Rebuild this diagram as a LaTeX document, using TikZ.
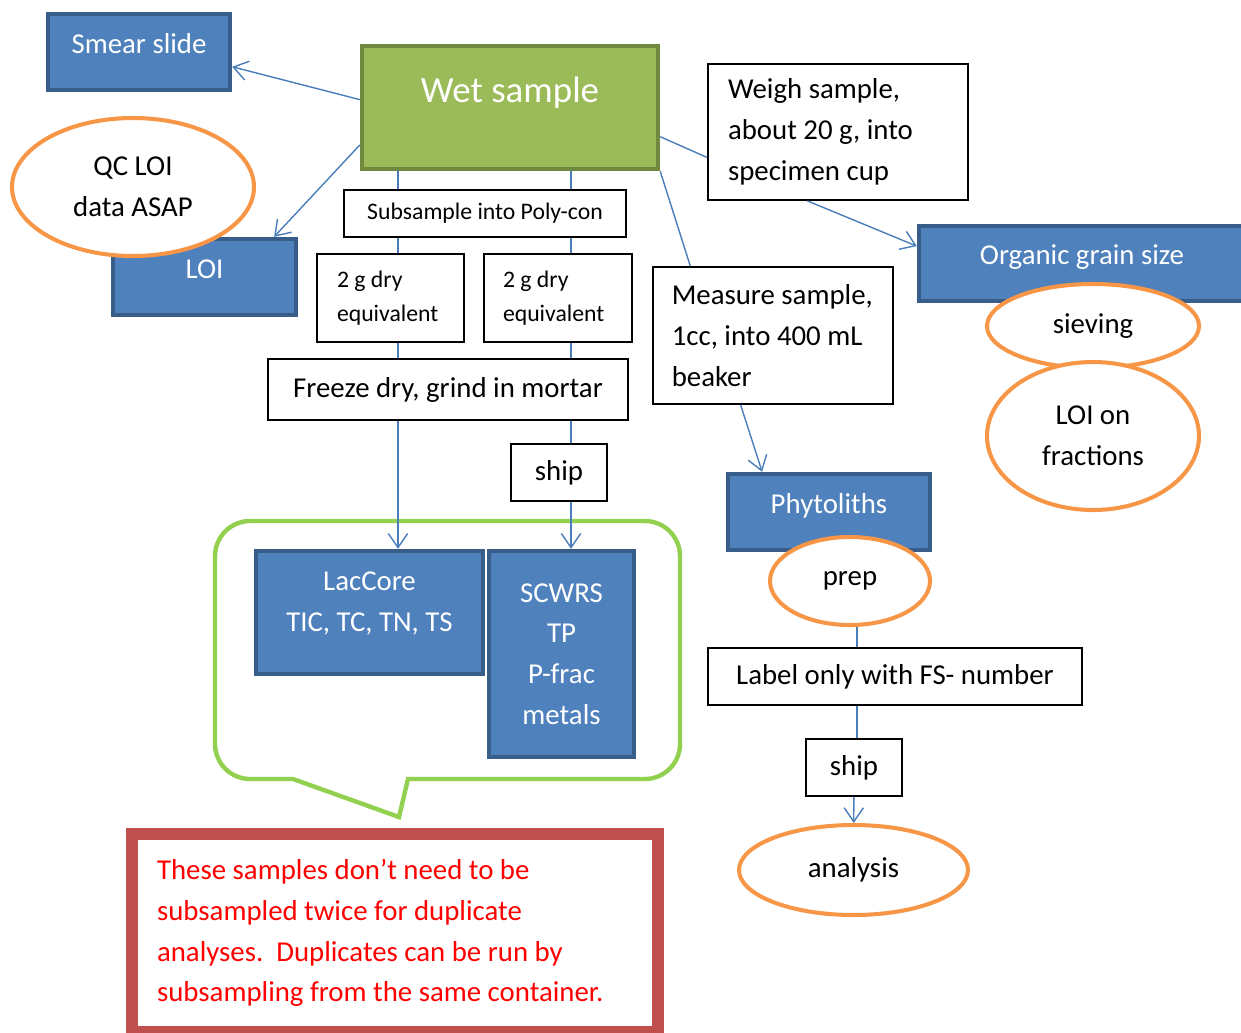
\documentclass[tikz,border=0pt]{standalone}
\usepackage{fontspec}
\setmainfont{Carlito}
\usetikzlibrary{shapes.geometric,arrows.meta}

\definecolor{boxblue}{HTML}{4F81BD}
\definecolor{edgeblue}{HTML}{385D8A}
\definecolor{wetgreen}{HTML}{9BBB59}
\definecolor{edgegreen}{HTML}{71893F}
\definecolor{ovalorange}{HTML}{F79646}
\definecolor{linkblue}{HTML}{4A7EBB}
\definecolor{callgreen}{HTML}{92D050}
\definecolor{noteedge}{HTML}{C0504D}

\begin{document}
\begin{tikzpicture}[x=0.02cm,y=-0.02cm,
  size/.style 2 args={minimum width=#1*0.02cm,minimum height=#2*0.02cm},
  txt/.style={font=\fontsize{16.4}{23.2}\selectfont},
  smalltxt/.style={font=\fontsize{13.5}{19.3}\selectfont},
  upshift/.style={text height=12pt,text depth=#1},
  bluebox/.style={draw=edgeblue,fill=boxblue,line width=2.5pt,text=white,inner sep=0pt,txt},
  plain/.style={draw=black,line width=1pt,fill=white,inner sep=0pt,txt},
  oval/.style={ellipse,draw=ovalorange,line width=2.3pt,fill=white,inner sep=0pt,align=center,txt},
  link/.style={draw=linkblue,line width=0.8pt},
  tip/.style={link,-{Straight Barb[length=8pt,width=11pt]}}]
   \useasboundingbox (0,0) rectangle (1241,1032);

   % blue boxes, ovals go on top
   \node[bluebox,size={182}{76},upshift=10.5pt] (smear) at (139,52) {Smear slide};
   \node[bluebox,size={183}{76},upshift=10.5pt] (loi) at (204.5,277) {LOI};
   \node[bluebox,size={326}{75},upshift=10.5pt] (grain) at (1082,263.5) {Organic grain size};
   \node[bluebox,size={202}{76},upshift=10.5pt] (phyto) at (829,512) {Phytoliths};
   \node[draw=edgegreen,fill=wetgreen,line width=2.5pt,size={296}{123},text=white,
         font=\fontsize{21}{25}\selectfont,text height=15pt,text depth=20.3pt] (wet) at (510,107.5) {Wet sample};

   \node[oval,size={242}{138}] (qc) at (133,187) {QC LOI\\data ASAP};
   \node[oval,size={212}{84}] (siev) at (1093,326) {sieving};
   \node[oval,size={212}{148}] (frac) at (1093,436) {LOI on\\fractions};
   \node[oval,size={160}{88}] (prep) at (850,581) {prep};
   \node[oval,size={229}{90}] (anal) at (853.5,870) {analysis};

   % plain steps
   \node[plain,smalltxt,size={282}{47}] (subs) at (485,213.5) {Subsample into Poly-con};
   \node[plain,smalltxt,size={147}{88},text width=2.14cm,align=flush left] (dry1) at (390.5,298) {2 g dry\\equivalent};
   \node[plain,smalltxt,size={148}{88},text width=2.2cm,align=flush left] (dry2) at (558,298) {2 g dry\\equivalent};
   \node[plain,size={360}{61}] (freeze) at (448,389.5) {Freeze dry, grind in mortar};
   \node[plain,size={96}{57}] (ship1) at (559,472.5) {ship};
   \node[plain,size={260}{136},text width=4.4cm,align=flush left] (weigh) at (838,132) {Weigh sample,\\about 20 g, into\\specimen cup};
   \node[plain,size={240}{137},text width=4.05cm,align=flush left] (meas) at (773,335.5) {Measure sample,\\1cc, into 400 mL\\beaker};
   \node[plain,size={374}{57}] (label) at (895,676.5) {Label only with FS- number};
   \node[plain,size={96}{57}] (ship2) at (854,767.5) {ship};

   % callout round the lab boxes
   \draw[callgreen,line width=2.5pt,line join=miter] (408,779) -- (399,817) -- (293,779) [rounded corners=20pt]
        -- (215,779) -- (215,521) -- (680,521) -- (680,779) [sharp corners] -- cycle;
   \node[bluebox,size={227}{123},align=center,text height=35pt,text depth=13.6pt] (lac) at (369.5,612.5) {LacCore\\TIC, TC, TN, TS};
   \node[bluebox,size={145}{206},align=center] (scw) at (561.5,654) {SCWRS\\TP\\P-frac\\metals};

   \node[draw=noteedge,line width=6.8pt,size={526}{198},text=red,text width=9.52cm,align=flush left,inner sep=0pt,txt] (note)
        at (395,933) {These samples don’t need to be\\subsampled twice for duplicate\\analyses.\ \ Duplicates can be run by\\subsampling from the same container.};

   % connectors
   \coordinate (lx) at (398,0);
   \coordinate (rx) at (571,0);
   \coordinate (px) at (857,0);
   \draw[tip] (wet.177) -- (smear.-9);
   \draw[tip] (wet.194) -- (loi.30);
   \draw[link] (wet.-11) -- (weigh.191);
   \draw[tip] (weigh.246) -- (grain.174);
   \draw[link] (wet.south east) -- (meas.140);
   \draw[tip] (meas.245) -- (phyto.149);
   \draw[link] (wet.south -| lx) -- (subs.north -| lx);
   \draw[link] (subs.south -| lx) -- (dry1.north -| lx);
   \draw[link] (dry1.south -| lx) -- (freeze.north -| lx);
   \draw[tip] (freeze.south -| lx) -- (lac.north -| lx);
   \draw[link] (wet.south -| rx) -- (subs.north -| rx);
   \draw[link] (subs.south -| rx) -- (dry2.north -| rx);
   \draw[link] (dry2.south -| rx) -- (freeze.north -| rx);
   \draw[link] (freeze.south -| rx) -- (ship1.north -| rx);
   \draw[tip] (ship1.south -| rx) -- (scw.north -| rx);
   \draw[link] (prep.south -| px) -- (label.north -| px);
   \draw[link] (label.south -| px) -- (ship2.north -| px);
   \draw[tip] (ship2) -- (anal);
\end{tikzpicture}
\end{document}
